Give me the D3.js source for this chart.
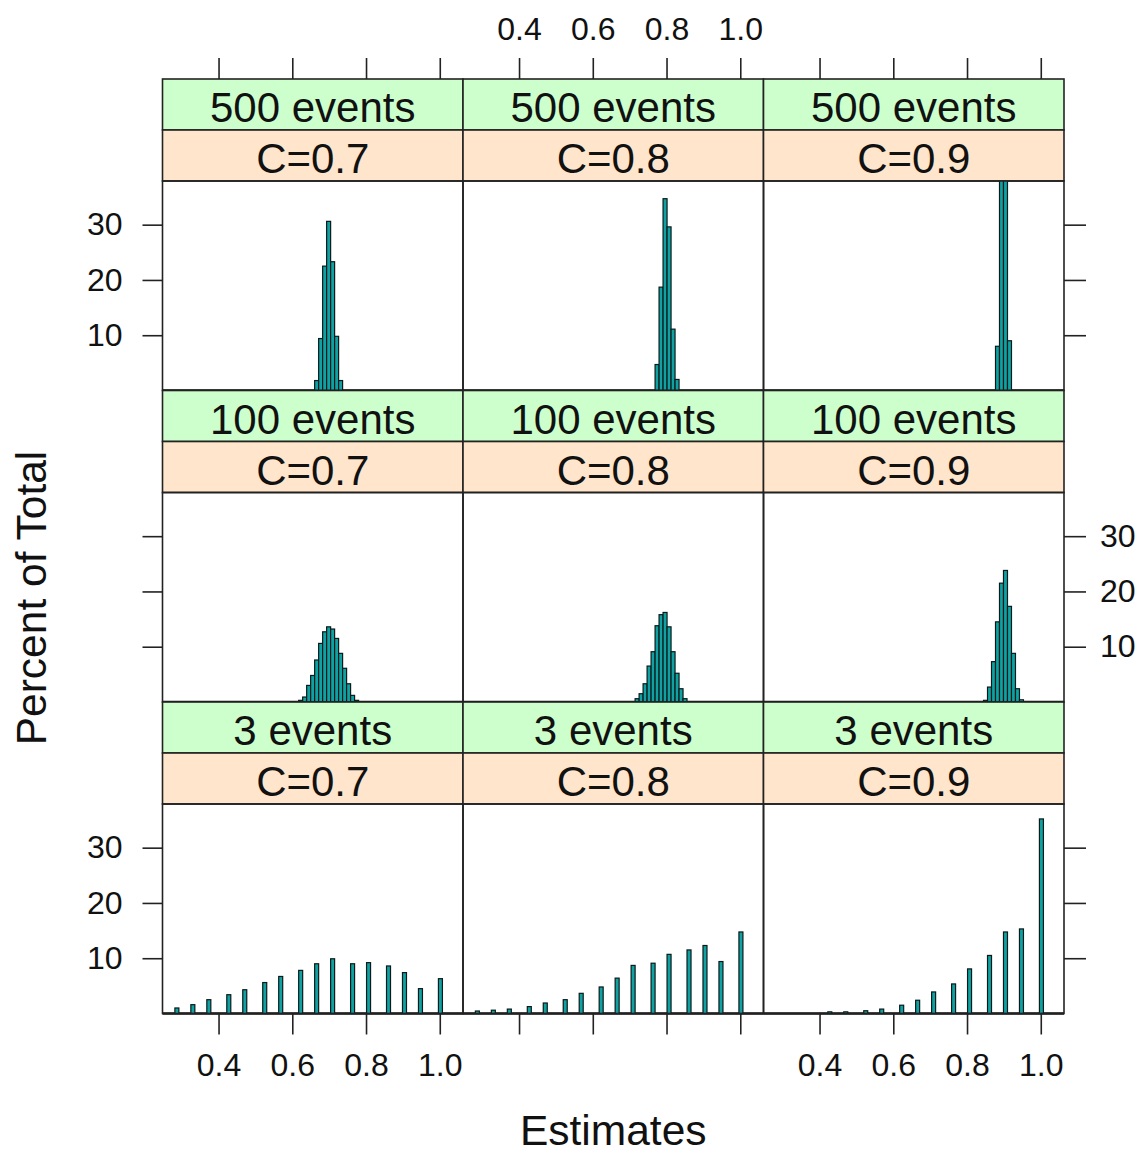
<!DOCTYPE html>
<html>
<head>
<meta charset="utf-8">
<style>
body { margin: 0; background: #fff; }
text { font-family: "Liberation Sans", Arial, sans-serif; fill: #111; }
.strip-events { fill: #ccffcc; stroke: #222; stroke-width: 1.6px; }
.strip-c { fill: #ffe5cc; stroke: #222; stroke-width: 1.6px; }
.strip-label { font-size: 42px; text-anchor: middle; }
.panel-border { fill: none; stroke: #222; stroke-width: 1.6px; }
.baseline { stroke: #111; stroke-width: 2.5px; }
.bar { fill: #10a2a2; stroke: #0a1a1a; stroke-width: 1.2px; }
.axis path { display: none; }
.axis line { stroke: #222; stroke-width: 1.6px; }
.axis text { font-size: 32px; font-family: "Liberation Sans", Arial, sans-serif; fill: #111; }
.axis-title { font-size: 42.5px; text-anchor: middle; }
</style>
</head>
<body>
<script src="https://d3js.org/d3.v7.min.js"></script>
<script>

// conditioning levels
var eventRows = ["500 events", "100 events", "3 events"];
var cColumns  = ["C=0.7", "C=0.8", "C=0.9"];

var xTicks = [0.4, 0.6, 0.8, 1.0];
var yTicks = [10, 20, 30];

// histogram bins: centre of bin k = binCenter0 + k * binWidth
var binCenter0 = 0.287;
var binWidth = 0.01083;

// 500 events, percent of total, from the first bin listed
var firstBin500 = [35, 45, 55];
var pct500_C07 = [1.8, 9.4, 22.5, 30.6, 23.3, 9.8, 1.8];
var pct500_C08 = [4.7, 18.7, 34.7, 29.6, 11.1, 2.0];
var pct500_C09 = [8.0, 42.0, 41.0, 9.0];

// 100 events
var firstBin100 = [31, 40, 52];
var pct100_C07 = [0.3, 0.9, 3.0, 4.8, 7.6, 10.6, 12.7, 13.6, 13.2, 11.5, 8.8, 6.1, 3.3, 1.2, 0.3];
var pct100_C08 = [0.6, 1.5, 3.3, 6.5, 9.1, 13.8, 15.8, 16.2, 13.6, 9.1, 5.2, 2.4, 0.6];
var pct100_C09 = [0.3, 2.7, 7.3, 14.5, 21.5, 23.8, 17.3, 8.8, 2.4, 0.4];

// 3 events: only these bins are occupied
var bins3 = [0, 4, 8, 13, 17, 22, 26, 31, 35, 39, 44, 48, 53, 57, 61, 66];
var pct3_C07 = [1.0, 1.6, 2.5, 3.4, 4.3, 5.6, 6.7, 7.8, 9.0, 9.9, 9.0, 9.2, 8.6, 7.4, 4.5, 6.3];
var pct3_C08 = [0.45, 0.6, 0.8, 1.25, 1.9, 2.5, 3.65, 4.8, 6.4, 8.7, 9.1, 10.7, 11.5, 12.3, 9.4, 14.75];
var pct3_C09 = [0, 0, 0, 0.3, 0.3, 0.5, 0.8, 1.5, 2.4, 3.9, 5.35, 8.07, 10.5, 14.75, 15.3, 35.2];

function consecutive(first, pct) {
	return pct.map(function(p, i) { return {bin: first + i, pct: p}; });
}
function listed(bins, pct) {
	return pct.map(function(p, i) { return {bin: bins[i], pct: p}; });
}

var panelBars = [
	[consecutive(firstBin500[0], pct500_C07), consecutive(firstBin500[1], pct500_C08), consecutive(firstBin500[2], pct500_C09)],
	[consecutive(firstBin100[0], pct100_C07), consecutive(firstBin100[1], pct100_C08), consecutive(firstBin100[2], pct100_C09)],
	[listed(bins3, pct3_C07), listed(bins3, pct3_C08), listed(bins3, pct3_C09)]
];

// layout
var width = 1146, height = 1153;
var gridLeft = 162.5, gridTop = 79;
var panelW = 300.5, panelH = 209.5, stripH = 51;
var rowH = 2 * stripH + panelH;

var svg = d3.select("body").append("svg")
	.attr("width", width)
	.attr("height", height);

var x = d3.scaleLinear().domain([0.248, 1.063]).range([0, panelW]);
var y = d3.scaleLinear().domain([0, 37.9]).range([panelH, 0]);
var fmt = d3.format(".1f");

function binX(k) { return binCenter0 + k * binWidth; }

for (var r = 0; r < 3; r++) {
	for (var c = 0; c < 3; c++) {
		var gx = gridLeft + c * panelW;
		var gy = gridTop + r * rowH;
		var g = svg.append("g").attr("transform", "translate(" + gx + "," + gy + ")");

		// strips
		g.append("rect").attr("class", "strip-events")
			.attr("x", 0).attr("y", 0).attr("width", panelW).attr("height", stripH);
		g.append("text").attr("class", "strip-label")
			.attr("x", panelW / 2).attr("y", stripH - 8)
			.text(eventRows[r]);
		g.append("rect").attr("class", "strip-c")
			.attr("x", 0).attr("y", stripH).attr("width", panelW).attr("height", stripH);
		g.append("text").attr("class", "strip-label")
			.attr("x", panelW / 2).attr("y", 2 * stripH - 8)
			.text(cColumns[c]);

		var p = g.append("g").attr("transform", "translate(0," + (2 * stripH) + ")");

		p.append("line").attr("class", "baseline")
			.attr("x1", 0).attr("x2", panelW)
			.attr("y1", y(0)).attr("y2", y(0));

		var clipId = "clip" + r + c;
		p.append("clipPath").attr("id", clipId)
			.append("rect").attr("width", panelW).attr("height", panelH);

		p.append("g").attr("clip-path", "url(#" + clipId + ")")
			.selectAll("rect")
			.data(panelBars[r][c].filter(function(d) { return d.pct > 0; }))
			.enter().append("rect")
			.attr("class", "bar")
			.attr("x", function(d) { return x(binX(d.bin) - binWidth / 2); })
			.attr("width", function(d) { return x(binX(d.bin) + binWidth / 2) - x(binX(d.bin) - binWidth / 2); })
			.attr("y", function(d) { return y(d.pct); })
			.attr("height", function(d) { return y(0) - y(d.pct); });

		p.append("rect").attr("class", "panel-border")
			.attr("width", panelW).attr("height", panelH);

		// y axes: labels alternate left / right by row
		if (c === 0) {
			p.append("g").attr("class", "axis")
				.call(d3.axisLeft(y).tickValues(yTicks).tickSize(20).tickPadding(20)
					.tickFormat(r === 1 ? "" : d3.format("d")));
		}
		if (c === 2) {
			p.append("g").attr("class", "axis")
				.attr("transform", "translate(" + panelW + ",0)")
				.call(d3.axisRight(y).tickValues(yTicks).tickSize(22).tickPadding(14)
					.tickFormat(r === 1 ? d3.format("d") : ""));
		}
		// x axes: bottom labels on outer columns, top labels on the middle one
		if (r === 2) {
			p.append("g").attr("class", "axis")
				.attr("transform", "translate(0," + panelH + ")")
				.call(d3.axisBottom(x).tickValues(xTicks).tickSize(21).tickPadding(19)
					.tickFormat(c === 1 ? "" : fmt));
		}
		if (r === 0) {
			g.append("g").attr("class", "axis")
				.call(d3.axisTop(x).tickValues(xTicks).tickSize(21).tickPadding(18)
					.tickFormat(c === 1 ? fmt : ""));
		}
	}
}

svg.append("text").attr("class", "axis-title")
	.attr("x", gridLeft + 1.5 * panelW)
	.attr("y", 1145)
	.text("Estimates");

svg.append("text").attr("class", "axis-title")
	.attr("transform", "translate(46," + 598 + ") rotate(-90)")
	.text("Percent of Total");

</script>
</body>
</html>
